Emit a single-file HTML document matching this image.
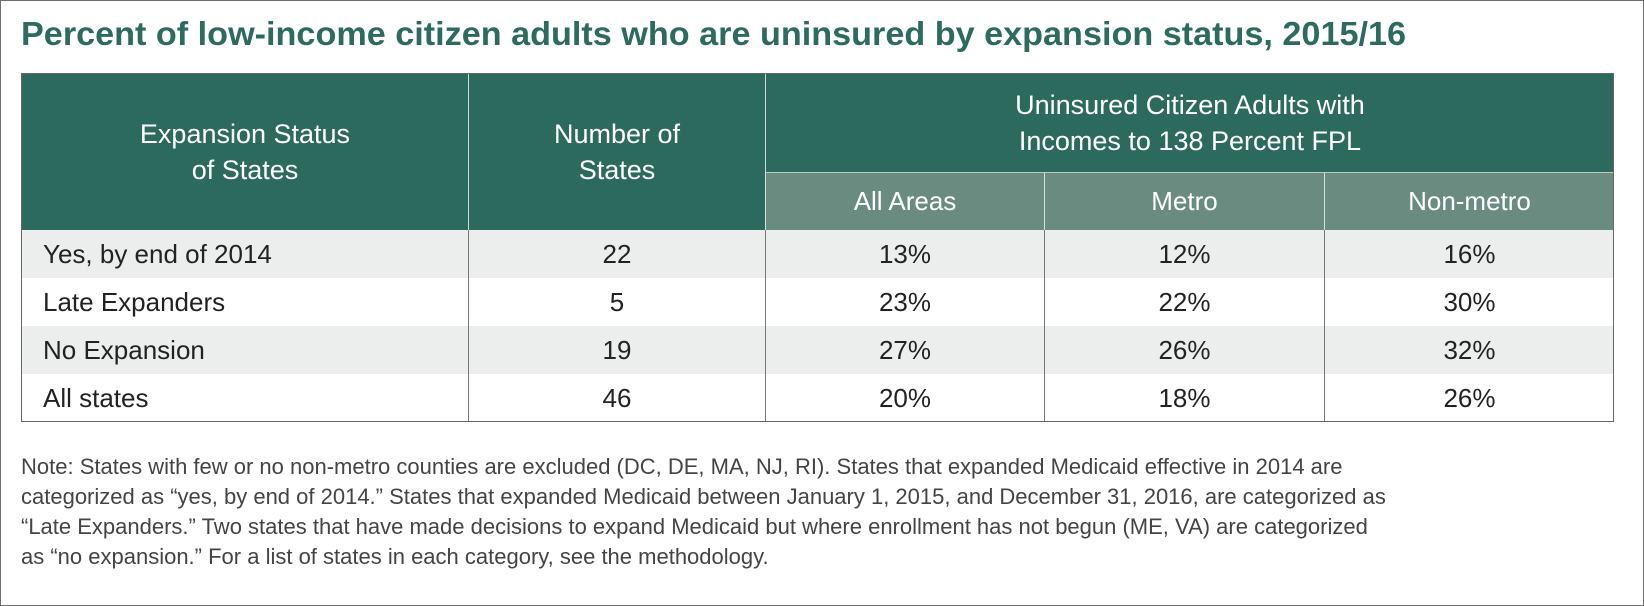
<!DOCTYPE html>
<html><head><meta charset="utf-8"><style>
body{margin:0;width:1644px;height:606px;overflow:hidden;background:#fff;font-family:"Liberation Sans",Arial,sans-serif}
#frame{position:absolute;left:0;top:0;width:1642px;height:604px;border:1px solid #6e6e6e}
.c{position:absolute;box-sizing:border-box;display:flex;align-items:center;justify-content:center;text-align:center}
.h{color:#fff;font-size:27px;line-height:36px;background:#2c6a5e}
.s{color:#fff;font-size:26px;background:#6a8b80}
.d{color:#222;font-size:26px}
.note{position:absolute;left:21px;font-size:22px;color:#444;white-space:nowrap}
</style></head><body>
<div id="frame"></div>
<svg style="position:absolute;left:0;top:0" width="1644" height="70">
<text x="21" y="45" font-family="Liberation Sans, Arial, sans-serif" font-size="33" font-weight="bold" fill="#2c6b5e" textLength="1385" lengthAdjust="spacingAndGlyphs">Percent of low-income citizen adults who are uninsured by expansion status, 2015/16</text>
</svg>
<div id="tbl" style="position:absolute;left:0;top:0"></div>
<div class="note" style="top:454px">Note: States with few or no non-metro counties are excluded (DC, DE, MA, NJ, RI). States that expanded Medicaid effective in 2014 are</div>
<div class="note" style="top:484px">categorized as “yes, by end of 2014.” States that expanded Medicaid between January 1, 2015, and December 31, 2016, are categorized as</div>
<div class="note" style="top:514px">“Late Expanders.” Two states that have made decisions to expand Medicaid but where enrollment has not begun (ME, VA) are categorized</div>
<div class="note" style="top:544px">as “no expansion.” For a list of states in each category, see the methodology.</div>
<script>
const categories=["Yes, by end of 2014","Late Expanders","No Expansion","All states"];
const numStates=["22","5","19","46"];
const allAreas=["13%","23%","27%","20%"];
const metro=["12%","22%","26%","18%"];
const nonMetro=["16%","30%","32%","26%"];
const t=document.getElementById('tbl');
const X=[22,468,765,1044,1324,1614];
function cell(cls,x,y,w,h,txt,name,extra){
  const d=document.createElement('div');
  d.className='c '+cls;
  d.style.left=x+'px';d.style.top=y+'px';d.style.width=w+'px';d.style.height=h+'px';
  if(extra)Object.assign(d.style,extra);
  d.innerHTML=txt;
  
  
  t.appendChild(d);return d;
}
// outer table border
const ob=document.createElement('div');
ob.style.cssText='position:absolute;left:21px;top:73px;width:1593px;height:349px;border:1px solid #666;box-sizing:border-box;';


t.appendChild(ob);
cell('h',X[0],74,X[1]-X[0],156,'Expansion Status<br>of States','header-expansion-status');
cell('h',X[1],74,X[2]-X[1],156,'Number of<br>States','header-number-of-states',{borderLeft:'1px solid #cfdad6'});
cell('h',X[2],74,X[5]-X[2],98,'Uninsured Citizen Adults with<br>Incomes to 138 Percent FPL','header-uninsured',{borderLeft:'1px solid #cfdad6'});
const subs=['All Areas','Metro','Non-metro'];
for(let i=0;i<3;i++){
  cell('s',X[2+i],172,X[3+i]-X[2+i],58,subs[i],'subheader-'+subs[i].toLowerCase().replace(/ /g,'-'),{borderLeft:'1px solid #d6dfdc',borderTop:'1px solid #b9cbc5'});
}
const cols=[numStates,allAreas,metro,nonMetro];
for(let r=0;r<categories.length;r++){
  const y=230+r*48;
  const bg=r%2===0?'#eceeed':'#fff';
  cell('d',X[0],y,X[1]-X[0],48,categories[r],'row-label-'+r,{justifyContent:'flex-start',paddingLeft:'21px',background:bg});
  for(let c=0;c<4;c++){
    cell('d',X[c+1],y,X[c+2]-X[c+1],48,cols[c][r],'cell-r'+r+'-c'+c,{background:bg,borderLeft:'1px solid #777'});
  }
}
t.appendChild(ob);
</script>
</body></html>
